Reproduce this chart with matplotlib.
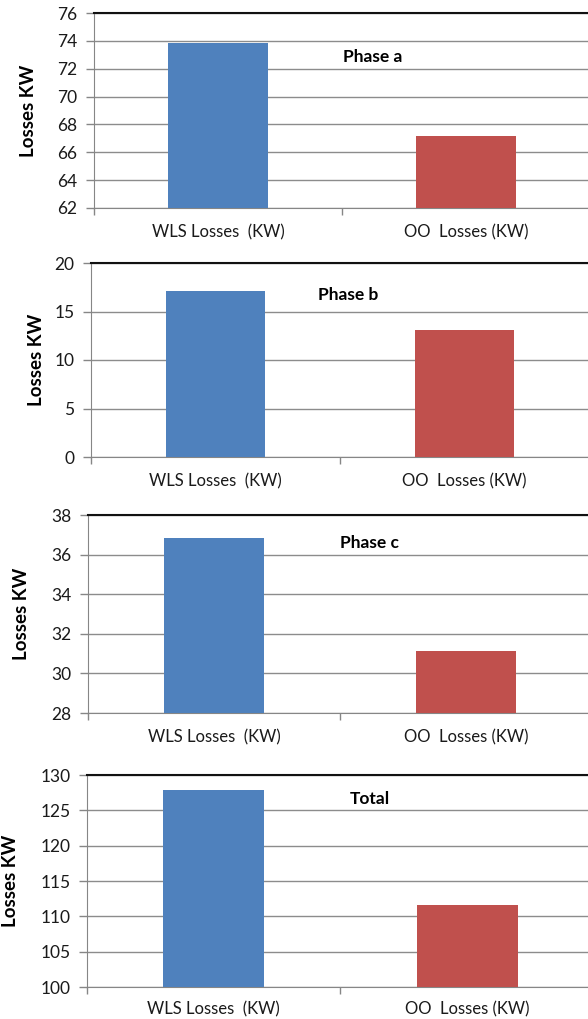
import matplotlib
matplotlib.use("Agg")
import matplotlib.pyplot as plt
from matplotlib.ticker import FixedLocator

categories = ["WLS Losses  (KW)", "OO  Losses (KW)"]
titles = ["Phase a", "Phase b", "Phase c", "Total"]
values_a = [73.87, 67.19]
values_b = [17.09, 13.08]
values_c = [36.82, 31.14]
values_total = [127.88, 111.63]
yticks_a = [62, 64, 66, 68, 70, 72, 74, 76]
yticks_b = [0, 5, 10, 15, 20]
yticks_c = [28, 30, 32, 34, 36, 38]
yticks_total = [100, 105, 110, 115, 120, 125, 130]

series = [values_a, values_b, values_c, values_total]
yticks = [yticks_a, yticks_b, yticks_c, yticks_total]

bar_colors = ["#4F81BD", "#C0504D"]
W, H = 588, 1019
# (left, right, top, bottom) in pixels
boxes = [(94, 590, 13, 208), (91, 589, 263, 457), (88, 592, 515, 713), (87, 594, 775, 987)]
title_pos = [(0.5625, 0.774), (0.516, 0.835), (0.558, 0.859), (0.558, 0.887)]
ylabel_x = [37, 45, 30, 19]
xlabel_pad = [12, 12, 12, 10]

plt.rcParams['font.family'] = ['Lato', 'DejaVu Sans']
fig = plt.figure(figsize=(W / 100, H / 100), dpi=100)

for i in range(4):
    l, r, t, b = boxes[i]
    ax = fig.add_axes([l / W, 1 - b / H, (r - l) / W, (b - t) / H])
    ax.bar(range(len(categories)), series[i], width=0.4, color=bar_colors, zorder=3)
    ax.set_xlim(-0.5, 1.5)
    ax.set_ylim(yticks[i][0], yticks[i][-1])
    ax.set_yticks(yticks[i])
    ax.set_yticklabels([str(v) for v in yticks[i]], fontsize=12.5, color="#1a1a1a")
    ax.set_xticks(range(len(categories)))
    ax.set_xticklabels(categories, fontsize=12, color="#1a1a1a")
    ax.xaxis.set_minor_locator(FixedLocator([-0.5, 0.5, 1.5]))
    ax.tick_params(axis='x', which='major', length=0, pad=xlabel_pad[i])
    ax.tick_params(axis='x', which='minor', length=5, color="#868686", width=1)
    ax.tick_params(axis='y', length=6, color="#868686", width=1, pad=6)
    ax.grid(axis='y', color="#8c8c8c", linewidth=1, zorder=0)
    ax.spines['right'].set_visible(False)
    ax.spines['top'].set_color("#111111")
    ax.spines['top'].set_linewidth(1.5)
    ax.spines['left'].set_color("#868686")
    ax.spines['bottom'].set_color("#868686")
    ax.set_ylabel("Losses KW", fontsize=13.5, fontweight='bold')
    ax.yaxis.set_label_coords((ylabel_x[i] - l) / (r - l), 0.5)
    ax.text(title_pos[i][0], title_pos[i][1], titles[i], transform=ax.transAxes,
            ha='center', va='center', fontsize=12.5, fontweight='bold', zorder=5)

fig.savefig("out.png", dpi=100)
